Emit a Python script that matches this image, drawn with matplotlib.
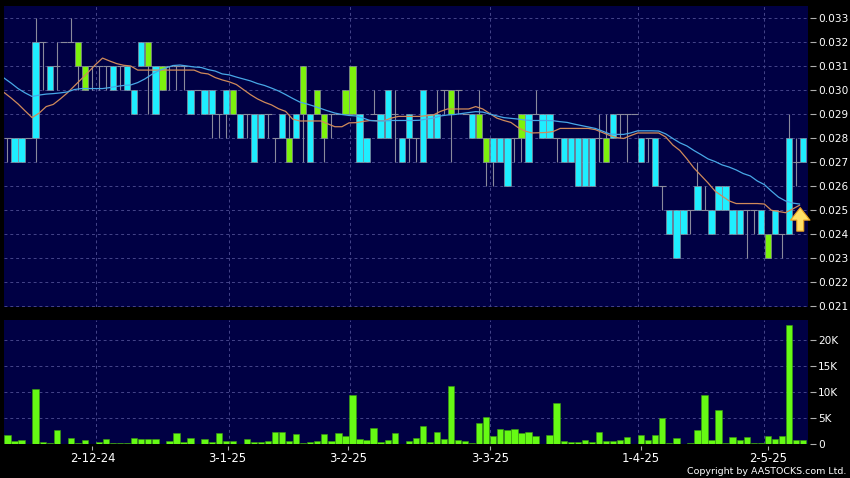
import numpy as np
import matplotlib
matplotlib.use("Agg")
from matplotlib import pyplot as plt

# prices are kept in thousandths, ten days to a row
opens = [28,28,28,28,32,32,31,31,32,32,
         31,30,31,31,31,31,31,31,30,32,
         31,31,30,31,31,31,30,30,30,30,
         29,30,29,29,29,29,29,29,28,29,
         27,29,29,29,29,28,29,29,29,29,
         29,28,29,29,30,29,28,29,28,30,
         29,29,30,29,30,29,29,28,27,28,
         28,28,28,28,29,29,29,29,28,28,
         28,28,28,28,28,27,29,29,29,29,
         28,28,28,26,25,25,25,25,26,25,
         25,26,26,25,25,25,25,25,23,25,
         24,28,27,28]
closes = [28,27,27,28,28,32,30,31,32,32,
          32,31,31,31,31,30,31,30,29,31,
          32,29,31,31,31,31,29,30,29,29,
          29,29,30,28,29,27,28,29,28,28,
          28,28,31,27,30,29,29,29,30,31,
          27,27,29,28,28,29,27,28,28,27,
          28,28,30,30,30,29,28,29,28,27,
          27,26,28,29,27,29,28,28,28,27,
          27,26,26,26,28,28,28,29,29,29,
          27,28,26,26,24,23,24,25,25,25,
          24,25,25,24,24,25,25,24,24,24,
          24,24,27,27]
highs = [28,28,28,28,33,32,31,32,32,33,
         32,31,31,31,31,31,31,31,30,32,
         32,31,31,31,31,31,30,30,30,30,
         29,30,30,29,29,29,29,29,28,29,
         29,29,31,29,30,29,29,29,30,31,
         29,28,30,29,30,30,28,29,28,30,
         29,30,30,30,30,29,29,30,28,28,
         28,28,28,29,29,30,29,29,28,28,
         28,28,28,28,29,29,29,29,29,29,
         28,28,28,26,25,25,25,25,27,26,
         25,26,26,25,25,25,25,25,24,25,
         24,29,28,28]
lows = [27,27,27,28,27,30,30,30,32,32,
        30,30,30,30,30,30,30,30,29,31,
        29,29,30,30,30,30,29,30,29,28,
        28,28,29,28,28,27,28,28,27,28,
        27,28,27,27,29,27,28,29,29,29,
        27,27,29,28,28,27,27,27,27,27,
        28,28,29,27,29,29,28,28,26,26,
        27,26,27,27,27,29,28,28,27,27,
        27,26,26,26,27,27,28,28,27,29,
        27,27,26,25,24,23,24,24,25,25,
        24,25,25,24,24,23,24,24,23,24,
        23,24,26,27]

ma_short = [29.90,29.67,29.42,29.13,28.85,29.04,29.31,29.40,29.63,29.88,30.17,30.46,30.75,31.06,31.33,31.21,31.10,31.03,31.00,
            30.83,30.83,30.83,30.83,30.83,30.83,30.83,30.83,30.83,30.71,30.67,30.52,30.42,30.34,30.23,30.02,29.81,29.63,29.49,29.38,
            29.22,29.11,28.79,28.71,28.71,28.71,28.71,28.59,28.47,28.47,28.63,28.64,28.69,28.73,28.72,28.72,28.83,28.90,28.90,28.90,
            28.90,28.93,28.96,29.11,29.21,29.21,29.21,29.21,29.31,29.21,29.02,28.83,28.73,28.65,28.44,28.29,28.21,28.22,28.23,28.27,
            28.40,28.40,28.40,28.40,28.40,28.35,28.23,28.11,28.02,27.98,28.10,28.21,28.21,28.21,28.21,28.04,27.71,27.48,27.13,26.75,
            26.44,26.13,25.79,25.58,25.38,25.27,25.27,25.27,25.27,25.25,24.99,24.94,24.89,25.04,25.20]
ma_long = [30.50,30.29,30.06,29.88,29.73,29.79,29.83,29.85,29.88,29.92,30.02,30.06,30.06,30.06,30.06,30.10,30.15,30.19,30.21,
           30.31,30.46,30.65,30.81,30.92,31.02,31.04,31.00,30.96,30.94,30.85,30.79,30.67,30.63,30.54,30.46,30.38,30.27,30.19,30.08,
           29.96,29.81,29.65,29.50,29.42,29.33,29.23,29.13,29.04,28.98,28.94,28.92,28.83,28.73,28.71,28.71,28.73,28.73,28.73,28.73,
           28.74,28.79,28.83,28.92,28.96,28.98,29.02,29.06,29.10,29.08,29.00,28.92,28.85,28.82,28.79,28.75,28.73,28.73,28.73,28.72,
           28.68,28.65,28.58,28.52,28.46,28.40,28.29,28.17,28.15,28.15,28.21,28.30,28.30,28.30,28.29,28.17,27.98,27.80,27.67,27.48,
           27.31,27.13,27.02,26.88,26.79,26.67,26.52,26.42,26.21,26.06,25.79,25.54,25.38,25.29,25.25]

# volume in K
volume = [1.6,.4,.65,0,10.5,.25,.05,2.6,0,1.1,.05,.7,0,.25,.8,.03,.03,.03,1.1,.8,.8,.8,0,.5,2.0,.2,1.0,0,.8,.2,
          2.1,.45,.4,0,.85,.25,.25,.5,2.2,2.3,.45,1.75,.05,.2,.4,1.9,.5,1.95,1.55,9.5,.8,.7,3.1,.2,.7,1.95,0,.4,1.1,3.4,
          .2,2.15,.9,11.2,.65,.5,.05,4.0,5.05,1.5,2.85,2.7,2.9,2.1,2.3,1.4,0,1.6,7.8,.5,.2,.2,.6,.3,2.2,.45,.5,.7,
          1.35,0,1.6,.65,1.6,5.0,.05,1.1,0,.1,2.7,9.5,.6,6.6,.03,1.3,.7,1.35,.1,.05,1.4,.8,1.5,23,.7,.7]

date_labels = ["2-12-24", "3-1-25", "3-2-25", "3-3-25", "1-4-25", "2-5-25"]
date_pos = [12.07, 31.25, 48.4, 68.5, 90, 108]
grid_pos = [12.5, 31.5, 48.6, 68.6, 89.5, 107.5]
price_ticks = [21, 22, 23, 24, 25, 26, 27, 28, 29, 30, 31, 32, 33]
vol_ticks = [0, 5, 10, 15, 20]
vol_labels = ["0", "5K", "10K", "15K", "20K"]

W, H = 850, 478
NAVY = "#000044"
CYAN = "#1feeff"
GREEN = "#7df20c"
VOLGREEN = "#66fa14"
EDGE = "#8a8a9c"
GRID = "#45458a"

o = np.array(opens) / 1000
c = np.array(closes) / 1000
hi = np.array(highs) / 1000
lo = np.array(lows) / 1000
x = np.arange(len(o))

fig = plt.figure(figsize=(W / 100, H / 100), dpi=100, facecolor="black")
ax = fig.add_axes([4 / W, 1 - 307 / H, 804 / W, 301 / H], facecolor=NAVY)
ax2 = fig.add_axes([4 / W, 1 - 443.5 / H, 804 / W, 123.5 / H], facecolor=NAVY)

for a in (ax, ax2):
    a.set_xlim(-0.497, 113.7)
    a.set_axisbelow(True)
    for s in a.spines.values():
        s.set_visible(False)
    for g in grid_pos:
        a.axvline(g, color=GRID, lw=0.7, ls=(0, (3, 3)), zorder=0)
    a.set_xticks([])
    a.yaxis.tick_right()
    a.tick_params(axis="y", length=0, pad=7.3, labelcolor="white", labelsize=7.6)

ax.set_ylim(0.02096, 0.0335)
ax.set_yticks(np.array(price_ticks) / 1000)
ax.set_yticklabels(["%.3f" % (t / 1000) for t in price_ticks])
ax.grid(axis="y", color=GRID, lw=0.7, ls=(0, (3, 3)))

ax2.set_ylim(0, 23.98)
ax2.set_yticks(vol_ticks)
ax2.set_yticklabels(vol_labels)
ax2.grid(axis="y", color=GRID, lw=0.7, ls=(0, (3, 3)))

# wicks, then flat days, then bodies
ax.vlines(x, lo, hi, color=EDGE, lw=0.8, zorder=2)
flat = o == c
ax.hlines(o[flat], x[flat] - 0.5, x[flat] + 0.5, color=EDGE, lw=0.8, zorder=2)
up = c > o
down = c < o
ax.bar(x[up], (c - o)[up], bottom=o[up], width=0.9, color=GREEN, edgecolor=EDGE, lw=0.5, zorder=3)
ax.bar(x[down], (o - c)[down], bottom=c[down], width=0.9, color=CYAN, edgecolor=EDGE, lw=0.5, zorder=3)

# moving averages sit on the left edge of each day
ax.plot(x - 0.5, np.array(ma_short) / 1000, color="#d08a5a", lw=0.9, zorder=4)
ax.plot(x - 0.5, np.array(ma_long) / 1000, color="#48a8e6", lw=0.9, zorder=4)

ax.annotate("", xy=(112.6, 0.02510), xytext=(112.6, 0.02412),
            arrowprops=dict(width=5, headwidth=14, headlength=9, facecolor="#ffe066",
                            edgecolor="#e8a020", lw=0.8, shrink=0), zorder=5)

ax2.bar(x, volume, width=0.9, color=VOLGREEN, edgecolor="#3a9a10", lw=0.4, zorder=3)

# the little tick dashes stand off from the plot edge
ax.plot([1.006] * len(price_ticks), np.array(price_ticks) / 1000, transform=ax.get_yaxis_transform(),
        ls="none", marker="_", ms=4, mew=0.8, color="#b0b0b0", clip_on=False)
ax2.plot([1.006] * len(vol_ticks), vol_ticks, transform=ax2.get_yaxis_transform(),
         ls="none", marker="_", ms=4, mew=0.8, color="#b0b0b0", clip_on=False)
ax2.plot(date_pos, [-0.039] * len(date_pos), transform=ax2.get_xaxis_transform(),
         ls="none", marker="|", ms=2.4, mew=0.8, color="#b0b0b0", clip_on=False)
for p, lab in zip(date_pos, date_labels):
    ax2.text(p, -0.118, lab, transform=ax2.get_xaxis_transform(), color="white",
             fontsize=8.4, ha="center", va="center")

fig.text(846 / W, 1 - 471 / H, "Copyright by AASTOCKS.com Ltd.", color="white",
         fontsize=6.8, ha="right", va="center")

fig.savefig("out.png", dpi=100, facecolor="black")
